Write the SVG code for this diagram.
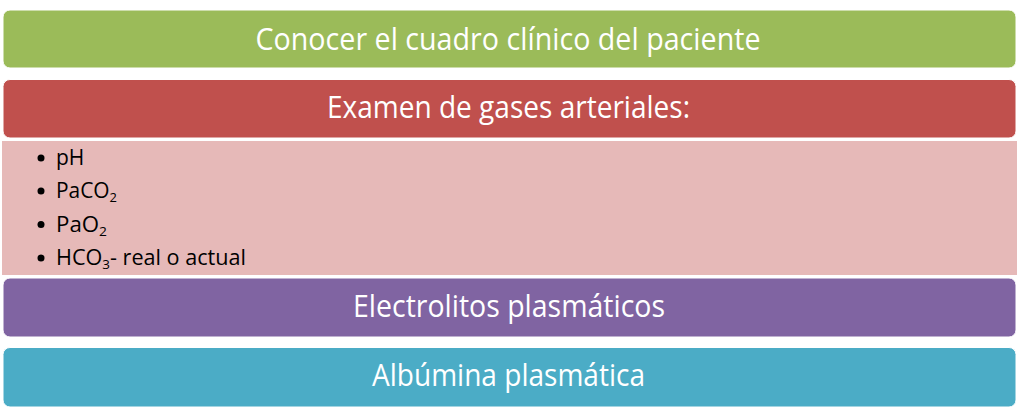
<svg xmlns="http://www.w3.org/2000/svg" width="1019" height="417" viewBox="0 0 1019 417">
<style>
.box{stroke:#ffffff;stroke-width:1}
.t{font-family:"Open Sans","Liberation Sans",sans-serif;font-size:31px;fill:#ffffff;text-anchor:middle}
.b{font-family:"Open Sans","Liberation Sans",sans-serif;font-size:21px;fill:#000000}
.s{font-size:13px}
</style>
<rect width="1019" height="417" fill="#ffffff"/>
<g id="node-cuadro">
<rect class="box" x="3" y="10" width="1013" height="58" rx="7" fill="#9BBB59"/>
<text class="t" x="508" y="50" textLength="505" lengthAdjust="spacingAndGlyphs">Conocer el cuadro clínico del paciente</text>
</g>
<g id="node-gases">
<rect class="box" x="3" y="79.5" width="1013" height="58.5" rx="7" fill="#C0504D"/>
<text class="t" x="508.5" y="118" textLength="363" lengthAdjust="spacingAndGlyphs">Examen de gases arteriales:</text>
</g>
<g id="node-gases-list">
<rect x="1.5" y="140.5" width="1016" height="135" fill="#E6B9B8" stroke="#ffffff" stroke-width="1"/>
<g fill="#000000">
<circle cx="41" cy="158" r="3.5"/>
<circle cx="41" cy="191" r="3.5"/>
<circle cx="41" cy="224.5" r="3.5"/>
<circle cx="41" cy="258" r="3.5"/>
</g>
<text class="b" x="56" y="165">pH</text>
<text class="b" x="56" y="198" textLength="61" lengthAdjust="spacingAndGlyphs">PaCO<tspan class="s" dy="4">2</tspan></text>
<text class="b" x="56" y="232" textLength="51" lengthAdjust="spacingAndGlyphs">PaO<tspan class="s" dy="4">2</tspan></text>
<text class="b" x="56" y="265" textLength="190" lengthAdjust="spacingAndGlyphs">HCO<tspan class="s" dy="4">3</tspan><tspan dy="-4">- real o actual</tspan></text>
</g>
<g id="node-electrolitos">
<rect class="box" x="3" y="278" width="1013" height="59" rx="7" fill="#8064A2"/>
<text class="t" x="509" y="317" textLength="312" lengthAdjust="spacingAndGlyphs">Electrolitos plasmáticos</text>
</g>
<g id="node-albumina">
<rect class="box" x="3" y="347.5" width="1013" height="59.5" rx="7" fill="#4BACC6"/>
<text class="t" x="508.5" y="386" textLength="273" lengthAdjust="spacingAndGlyphs">Albúmina plasmática</text>
</g>
<g id="connectors"></g>
</svg>
